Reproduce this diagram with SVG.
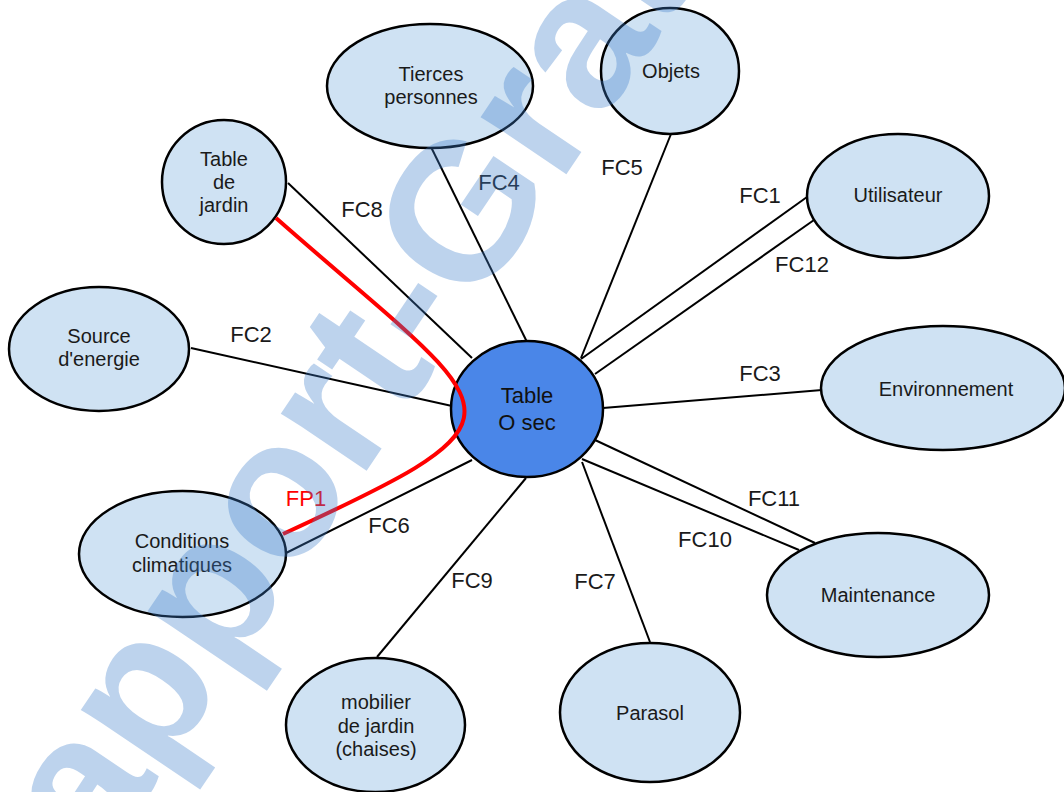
<svg xmlns="http://www.w3.org/2000/svg" width="1064" height="792" viewBox="0 0 1064 792">
<style>
.node{fill:#cfe2f3;stroke:#000;stroke-width:2.5}
.main{fill:#4a86e8;stroke:#000;stroke-width:2.5}
.t{font-family:"Liberation Sans",Arial,sans-serif;font-size:20px;fill:#1a1a1a;text-anchor:middle}
.tm{font-family:"Liberation Sans",Arial,sans-serif;font-size:22px;fill:#111;text-anchor:middle}
.lbl{font-family:"Liberation Sans",Arial,sans-serif;font-size:22px;fill:#1a1a1a;text-anchor:middle}
.edge{stroke:#000;stroke-width:2;fill:none}
.fp{stroke:#ff0000;stroke-width:4;fill:none}
.wm{font-family:"Liberation Sans",Arial,sans-serif;font-size:195px;font-weight:bold;fill:#3f7fcc;opacity:0.34}
</style>
<rect width="1064" height="792" fill="#fff"/>
<g id="connectors">
<line class="edge" x1="431" y1="147" x2="527" y2="342"/>
<line class="edge" x1="671" y1="134" x2="581" y2="358"/>
<line class="edge" x1="807" y1="197" x2="581" y2="359"/>
<line class="edge" x1="814" y1="220" x2="595" y2="374"/>
<line class="edge" x1="822" y1="390" x2="603" y2="408"/>
<line class="edge" x1="815" y1="543" x2="595" y2="440"/>
<line class="edge" x1="799" y1="550" x2="582" y2="459"/>
<line class="edge" x1="650" y1="642" x2="582" y2="462"/>
<line class="edge" x1="377" y1="657" x2="526" y2="478"/>
<line class="edge" x1="286" y1="553" x2="472" y2="460"/>
<line class="edge" x1="191" y1="348" x2="452" y2="406"/>
<line class="edge" x1="288" y1="183" x2="472" y2="358"/>
<text class="lbl" x="362" y="217">FC8</text>
<text class="lbl" x="499" y="190">FC4</text>
<text class="lbl" x="622" y="175">FC5</text>
<text class="lbl" x="760" y="203">FC1</text>
<text class="lbl" x="802" y="272">FC12</text>
<text class="lbl" x="251" y="342">FC2</text>
<text class="lbl" x="760" y="381">FC3</text>
<text class="lbl" x="774" y="506">FC11</text>
<text class="lbl" x="705" y="547">FC10</text>
<text class="lbl" x="595" y="589">FC7</text>
<text class="lbl" x="472" y="588">FC9</text>
<text class="lbl" x="389" y="533">FC6</text>
</g>
<g id="node-table-osec">
<ellipse class="main" cx="527" cy="409" rx="76" ry="68"/>
<text class="tm" x="527" y="403">Table</text>
<text class="tm" x="527" y="430">O sec</text>
</g>
<g id="node-tierces">
<ellipse class="node" cx="430" cy="86" rx="103" ry="62"/>
<text class="t" x="431" y="81">Tierces</text>
<text class="t" x="431" y="104">personnes</text>
</g>
<g id="node-objets">
<ellipse class="node" cx="670" cy="71" rx="69" ry="63"/>
<text class="t" x="671" y="78">Objets</text>
</g>
<g id="node-table-jardin">
<circle class="node" cx="224" cy="182" r="62"/>
<text class="t" x="224" y="166">Table</text>
<text class="t" x="224" y="189">de</text>
<text class="t" x="224" y="212">jardin</text>
</g>
<g id="node-utilisateur">
<ellipse class="node" cx="898" cy="196" rx="91" ry="62"/>
<text class="t" x="898" y="202">Utilisateur</text>
</g>
<g id="node-source">
<ellipse class="node" cx="99" cy="349" rx="90" ry="62"/>
<text class="t" x="99" y="343">Source</text>
<text class="t" x="99" y="366">d'energie</text>
</g>
<g id="node-environnement">
<ellipse class="node" cx="943" cy="388" rx="122" ry="62"/>
<text class="t" x="946" y="396">Environnement</text>
</g>
<g id="node-conditions">
<ellipse class="node" cx="182.5" cy="554" rx="103.5" ry="63"/>
<text class="t" x="182" y="548">Conditions</text>
<text class="t" x="182" y="572">climatiques</text>
</g>
<g id="node-maintenance">
<ellipse class="node" cx="878" cy="595" rx="111" ry="62"/>
<text class="t" x="878" y="602">Maintenance</text>
</g>
<g id="node-parasol">
<ellipse class="node" cx="650" cy="712.5" rx="90" ry="69.5"/>
<text class="t" x="650" y="720">Parasol</text>
</g>
<g id="node-mobilier">
<ellipse class="node" cx="375.5" cy="725" rx="89.5" ry="67"/>
<text class="t" x="376" y="709">mobilier</text>
<text class="t" x="376" y="733">de jardin</text>
<text class="t" x="376" y="756">(chaises)</text>
</g>
<g id="fp1">
<path class="fp" d="M276,218 C503,418 548,412 283,534"/>
<text x="306" y="506" font-family="Liberation Sans, Arial, sans-serif" font-size="22" fill="#ff0000" text-anchor="middle">FP1</text>
</g>
<text class="wm" x="56" y="931" transform="rotate(-56 56 931)">rapport-Gratuit</text>
</svg>
